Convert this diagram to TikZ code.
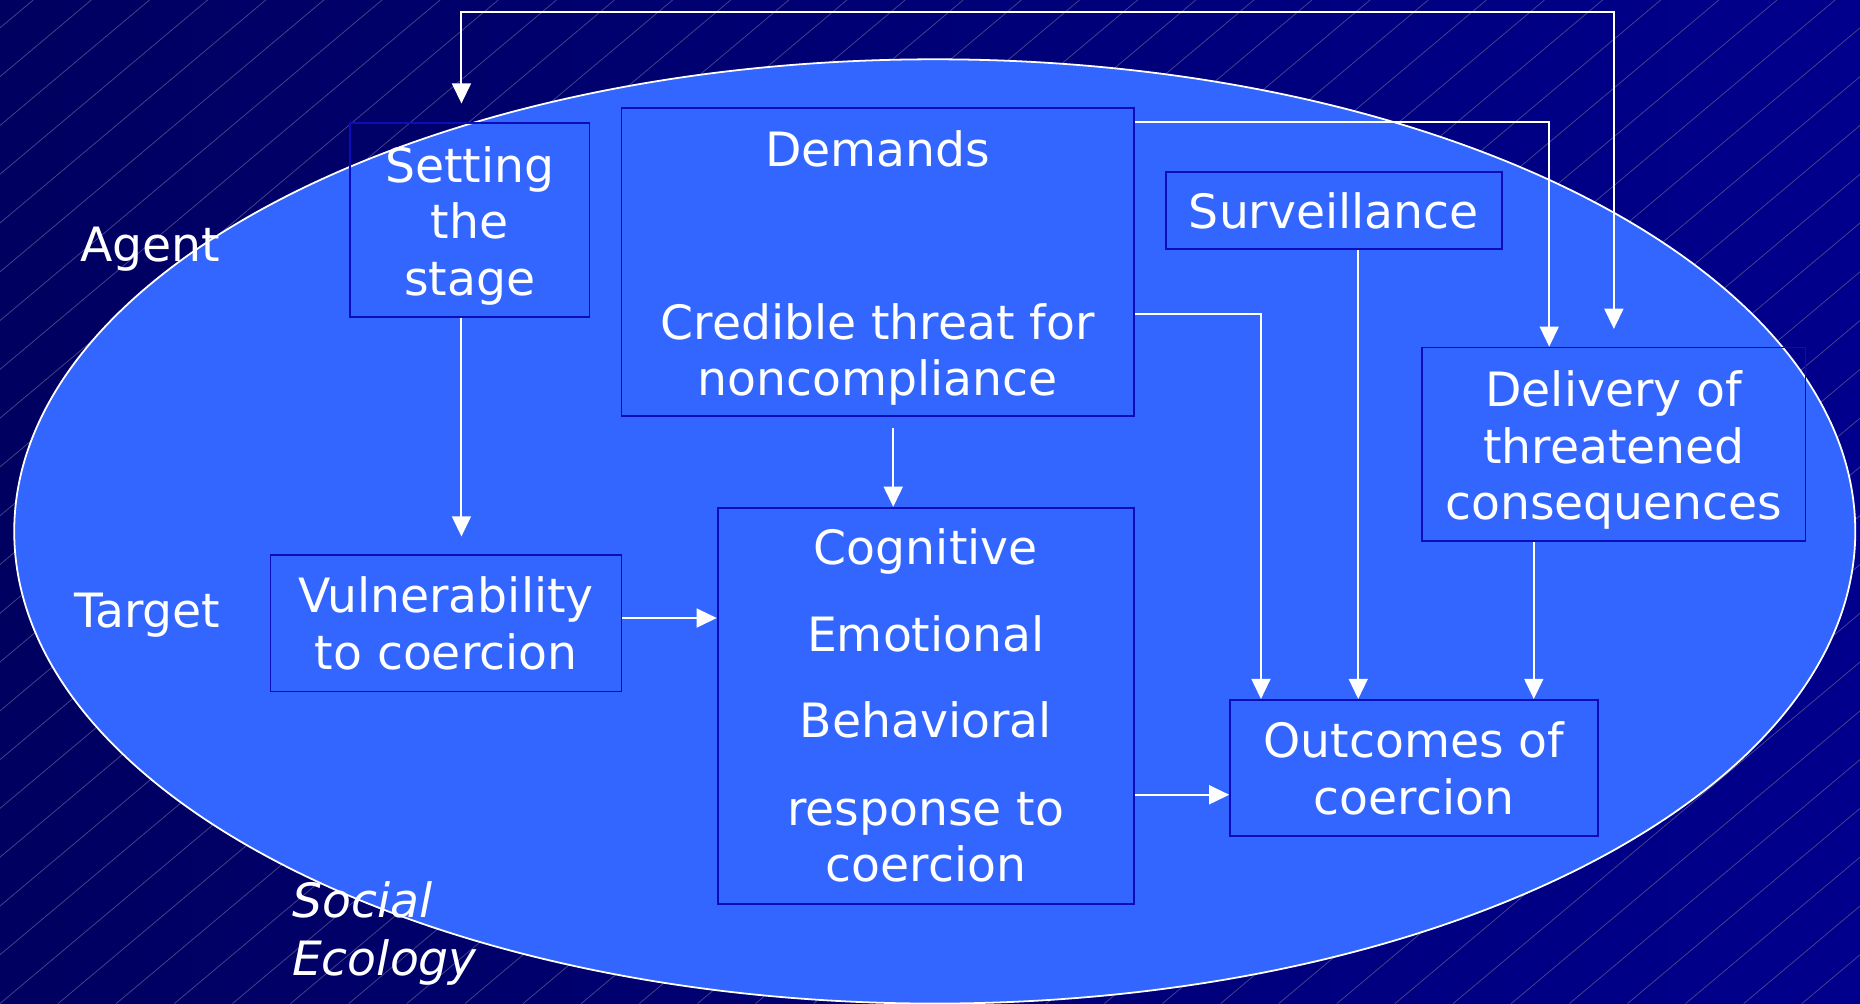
\documentclass[tikz,border=0pt]{standalone}
\usepackage{fontspec}
\setmainfont{DejaVu Sans}
\usepackage{tikz}
\usetikzlibrary{arrows.meta}
\usepackage{xcolor}
\definecolor{ColA}{RGB}{51,102,255}
\definecolor{ColB}{RGB}{12,12,185}
\definecolor{ColC}{RGB}{0,0,96}
\definecolor{ColD}{RGB}{0,0,140}
\newcommand{\BoxStrut}{\rule{0pt}{40bp}}
\tikzstyle{NodeBox}=[draw=ColB,line width=1.5bp,inner sep=0pt,text=white,align=center,
font=\fontsize{40}{48}\selectfont]
\tikzstyle{NodeLabel}=[inner sep=0pt,text=white,font=\fontsize{40}{49}\selectfont]
\tikzstyle{EdgeArrow}=[white,line width=1.6bp,-{Triangle[length=17bp,width=16bp]}]
\tikzstyle{StripeLine}=[white!28!ColC,line width=0.6bp]

\begin{document}
\begin{tikzpicture}[x=1bp,y=-1bp]
        \useasboundingbox(0,0)rectangle(1568,846);
        \shade[left color=ColC,right color=ColD](0,0)rectangle(1568,846);
        \begin{scope}
            \clip(0,0)rectangle(1568,846);
            \foreach \i in {-22,...,33}
                \draw[StripeLine](\i*49,846)--++(1008,-846);
        \end{scope}
        \draw[fill=ColA,draw=white,line width=1.5bp](788,448)ellipse[x radius=776bp,y radius=398bp];
        \node[NodeBox,minimum width=202bp,minimum height=163bp](Stage)at(396,185.5){\BoxStrut Setting\\the\\stage};
        \node[NodeBox,minimum width=432bp,minimum height=260bp](Dem)at(740,221){\BoxStrut Demands\\[98bp]Credible threat for\\noncompliance};
        \node[NodeBox,minimum width=283bp,minimum height=65bp](Surv)at(1124.5,177.5){Surveillance};
        \node[NodeBox,minimum width=323bp,minimum height=163bp](Deliv)at(1360.5,374.5){\BoxStrut Delivery of\\threatened\\consequences};
        \node[NodeBox,minimum width=296bp,minimum height=115bp](Vuln)at(376,525.5){Vulnerability\\to coercion};
        \node[NodeBox,minimum width=351bp,minimum height=334bp](Cog)at(780.5,595){Cognitive\\[25bp]Emotional\\[25bp]Behavioral\\[26bp]response to\\coercion};
        \node[NodeBox,minimum width=310bp,minimum height=115bp](Out)at(1192,647.5){Outcomes of\\coercion};
        \node[NodeLabel,anchor=east](Agent)at(186,210){Agent};
        \node[NodeLabel,anchor=east](Target)at(186,519){Target};
        \node[NodeLabel,anchor=west,align=left,font=\fontsize{40}{49}\selectfont\itshape](Eco)at(246,787){Social\\Ecology};
        \coordinate(Top)at(0,10);
        \draw[EdgeArrow,{Triangle[length=17bp,width=16bp]}-{Triangle[length=17bp,width=16bp]},shorten <=16bp,shorten >=15bp]
            ([xshift=-7bp]Stage.north)--([xshift=-7bp]Stage.north|-Top)-|(Deliv.north);
        \draw[EdgeArrow,shorten >=15bp]([xshift=-7bp]Stage.south)--([xshift=-7bp]Stage.south|-Vuln.north);
        \draw[EdgeArrow](Vuln.east|-0,521)--(Cog.west|-0,521);
        \draw[EdgeArrow,shorten <=9bp](Dem.south-|753,0)--(Cog.north-|753,0);
        \draw[EdgeArrow](Cog.east|-0,670)--(Out.west|-0,670);
        \draw[EdgeArrow](Dem.east|-0,103)-|(Deliv.north-|1306,0);
        \draw[EdgeArrow](Dem.east|-0,265)-|(Out.north-|1063,0);
        \draw[EdgeArrow](Surv.south-|1145,0)--(Out.north-|1145,0);
        \draw[EdgeArrow](Deliv.south-|1293,0)--(Out.north-|1293,0);
    \end{tikzpicture}
\end{document}
